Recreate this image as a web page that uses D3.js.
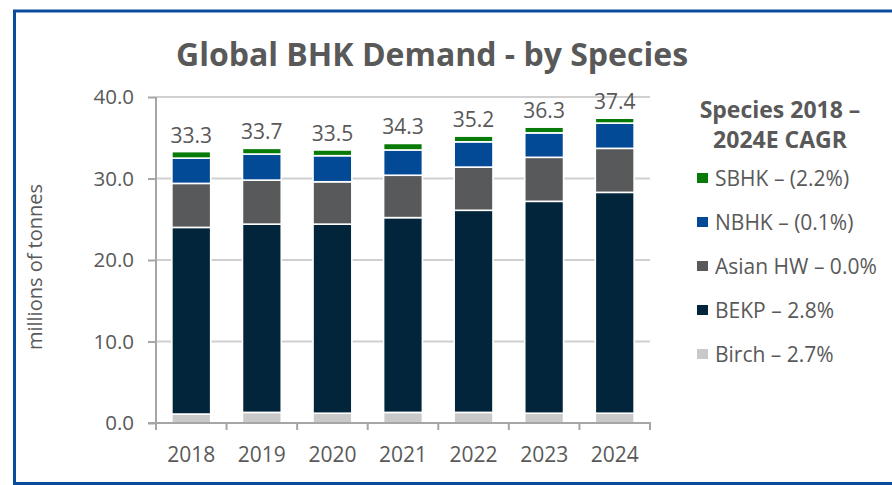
<!DOCTYPE html>
<html>
<head>
<meta charset="utf-8">
<script src="https://cdn.jsdelivr.net/npm/d3@7"></script>
<style>
  body { margin: 0; background: #fff; }
  svg { display: block; font-family: "Open Sans", sans-serif; }
</style>
</head>
<body>
<svg id="chart" width="892" height="485"></svg>
<script>
const years = ["2018", "2019", "2020", "2021", "2022", "2023", "2024"];
const species = ["Birch", "BEKP", "Asian HW", "NBHK", "SBHK"];
const birch   = [1.1, 1.3, 1.2, 1.3, 1.3, 1.2, 1.2];
const bekp    = [22.9, 23.1, 23.2, 23.9, 24.8, 26.0, 27.1];
const asianHW = [5.4, 5.4, 5.2, 5.2, 5.3, 5.4, 5.4];
const nbhk    = [3.1, 3.2, 3.2, 3.1, 3.1, 3.0, 3.1];
const sbhk    = [0.8, 0.7, 0.7, 0.8, 0.7, 0.7, 0.6];
const totals  = [33.3, 33.7, 33.5, 34.3, 35.2, 36.3, 37.4];
const yTicks  = [0, 10, 20, 30, 40];
const legendLabels = ["SBHK – (2.2%)", "NBHK – (0.1%)", "Asian HW – 0.0%", "BEKP – 2.8%", "Birch – 2.7%"];
const legendKeys   = ["SBHK", "NBHK", "Asian HW", "BEKP", "Birch"];

const colors = {
  "Birch": "#c8c9c8",
  "BEKP": "#03253b",
  "Asian HW": "#58595b",
  "NBHK": "#034a96",
  "SBHK": "#077a07"
};
const textColor = "#595959";

const rows = years.map((yr, i) => ({
  year: yr,
  "Birch": birch[i],
  "BEKP": bekp[i],
  "Asian HW": asianHW[i],
  "NBHK": nbhk[i],
  "SBHK": sbhk[i],
  total: totals[i]
}));

const svg = d3.select("#chart");

// outer frame (open on the right side)
svg.append("rect")
  .attr("x", 14.5).attr("y", 11)
  .attr("width", 900).attr("height", 472.5)
  .attr("fill", "none")
  .attr("stroke", "#0a4c9c")
  .attr("stroke-width", 3);

svg.append("text")
  .attr("x", 432).attr("y", 66)
  .attr("text-anchor", "middle")
  .attr("font-size", 32)
  .attr("font-weight", 700)
  .attr("fill", textColor)
  .text("Global BHK Demand - by Species");

const x = d3.scaleBand().domain(years).range([156, 650])
  .paddingInner(0.45).paddingOuter(0.225);
const y = d3.scaleLinear().domain([0, 40]).range([423, 97]);

// gridlines
svg.append("g")
  .selectAll("line")
  .data(yTicks.filter(d => d > 0))
  .join("line")
  .attr("x1", 156).attr("x2", 650)
  .attr("y1", d => y(d)).attr("y2", d => y(d))
  .attr("stroke", "#d0d0d0")
  .attr("stroke-width", 2);

// stacked bars
const stack = d3.stack().keys(species)(rows);
svg.append("g")
  .selectAll("g")
  .data(stack)
  .join("g")
  .attr("fill", s => colors[s.key])
  .selectAll("rect")
  .data(s => s)
  .join("rect")
  .attr("x", d => x(d.data.year))
  .attr("width", x.bandwidth())
  .attr("y", d => y(d[1]))
  .attr("height", d => y(d[0]) - y(d[1]))
  .attr("stroke", "#ffffff")
  .attr("stroke-width", 1.6);

// total labels
svg.append("g")
  .selectAll("text")
  .data(rows)
  .join("text")
  .attr("x", d => x(d.year) + x.bandwidth() / 2)
  .attr("y", d => y(d.total) - 9)
  .attr("text-anchor", "middle")
  .attr("font-size", 21)
  .attr("fill", textColor)
  .text(d => d.total.toFixed(1));

// y axis
const yAxis = svg.append("g")
  .attr("transform", "translate(156,0)")
  .call(d3.axisLeft(y).tickValues(yTicks).tickFormat(d3.format(".1f"))
    .tickSize(8).tickSizeOuter(0).tickPadding(14));
yAxis.select(".domain").attr("stroke", "#a6a6a6").attr("stroke-width", 2)
  .attr("d", `M0,${y(40)}V${y(0) + 7}`);
yAxis.selectAll(".tick line").attr("stroke", "#a6a6a6").attr("stroke-width", 2);
yAxis.selectAll(".tick text")
  .attr("font-size", 20.5).attr("font-family", "Open Sans, sans-serif")
  .attr("fill", textColor);

// x axis with ticks between categories
const bounds = d3.range(years.length + 1).map(i => x.range()[0] + i * x.step());
const xAxis = svg.append("g");
xAxis.append("line")
  .attr("x1", 148).attr("x2", bounds[bounds.length - 1] + 1)
  .attr("y1", y(0)).attr("y2", y(0))
  .attr("stroke", "#a6a6a6").attr("stroke-width", 2);
xAxis.selectAll("line.tk")
  .data(bounds)
  .join("line")
  .attr("class", "tk")
  .attr("x1", d => d).attr("x2", d => d)
  .attr("y1", y(0)).attr("y2", y(0) + 7)
  .attr("stroke", "#a6a6a6").attr("stroke-width", 2);
xAxis.selectAll("text")
  .data(years)
  .join("text")
  .attr("x", d => x(d) + x.bandwidth() / 2)
  .attr("y", 462)
  .attr("text-anchor", "middle")
  .attr("font-size", 21)
  .attr("fill", textColor)
  .text(d => d);

// y axis title
svg.append("text")
  .attr("transform", "translate(42,267) rotate(-90)")
  .attr("text-anchor", "middle")
  .attr("font-size", 20)
  .attr("fill", textColor)
  .text("millions of tonnes");

// legend
const legend = svg.append("g");
legend.append("text")
  .attr("x", 780).attr("text-anchor", "middle")
  .attr("font-size", 23).attr("font-weight", 700)
  .attr("fill", textColor)
  .selectAll("tspan")
  .data(["Species 2018 –", "2024E CAGR"])
  .join("tspan")
  .attr("x", 780)
  .attr("y", (d, i) => 118 + i * 30)
  .text(d => d);

const items = legend.selectAll("g.item")
  .data(legendKeys)
  .join("g")
  .attr("class", "item")
  .attr("transform", (d, i) => `translate(697,${178 + i * 44})`);
items.append("rect")
  .attr("x", 0).attr("y", -5)
  .attr("width", 11).attr("height", 10)
  .attr("fill", d => colors[d]);
items.append("text")
  .attr("x", 18).attr("y", 7.5)
  .attr("font-size", 21)
  .attr("fill", textColor)
  .text((d, i) => legendLabels[i]);
</script>
</body>
</html>
